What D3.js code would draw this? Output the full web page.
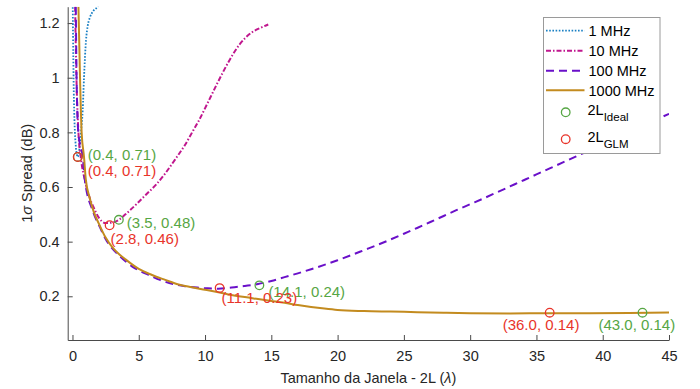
<!DOCTYPE html>
<html>
<head>
<meta charset="utf-8">
<script src="https://cdn.jsdelivr.net/npm/d3@7"></script>
<style>
  body { margin: 0; background: #fff; }
  text { font-family: "Liberation Sans", Arial, sans-serif; }
</style>
</head>
<body>
<div id="graph"></div>
<script>
// values
const xTicks = [0, 5, 10, 15, 20, 25, 30, 35, 40, 45]
const yTicks = [0.2, 0.4, 0.6, 0.8, 1, 1.2]

const seriesNames = ['1 MHz', '10 MHz', '100 MHz', '1000 MHz']

const x1MHz = [0.02, 0.11, 0.26, 0.33, 0.4, 0.48, 0.57, 0.67, 0.77, 0.87, 1.02, 1.15, 1.32, 1.55, 1.83, 1.95]
const y1MHz = [1.258, 0.92, 0.744, 0.72, 0.71, 0.725, 0.759, 0.815, 0.88, 1.0, 1.136, 1.19, 1.221, 1.243, 1.256, 1.262]

const x10MHz = [0.2, 0.3, 0.45, 0.65, 0.94, 1.3, 1.6, 2.0, 2.5, 3.0, 3.5, 4.0, 4.84, 5.5, 6.35, 7.0, 7.86, 8.5, 9.11, 9.5, 10.12, 10.88, 11.75, 12.64, 13.5, 14.2, 14.77]
const y10MHz = [1.26, 1.0, 0.8, 0.7, 0.624, 0.56, 0.525, 0.487, 0.468, 0.47, 0.48, 0.5, 0.538, 0.57, 0.611, 0.65, 0.709, 0.755, 0.807, 0.84, 0.9, 0.975, 1.056, 1.124, 1.165, 1.183, 1.195]

const x100MHz = [0.25, 0.31, 0.44, 0.77, 0.94, 1.52, 2.07, 2.5, 3.0, 3.5, 4.0, 4.6, 5.0, 5.85, 6.6, 7.6, 8.5, 9.4, 10.2, 11.0, 12, 13, 14, 15, 16, 17, 18, 19, 20, 21, 22, 23, 24, 25, 26, 27, 28, 29, 30, 31, 32, 33, 34, 35, 36, 37, 38, 39, 40, 41, 42, 43, 44, 45]
const y100MHz = [1.26, 1.0, 0.8, 0.71, 0.624, 0.514, 0.453, 0.41, 0.375, 0.35, 0.328, 0.306, 0.295, 0.276, 0.26, 0.245, 0.237, 0.232, 0.229, 0.228, 0.232, 0.238, 0.245, 0.256, 0.27, 0.284, 0.299, 0.315, 0.332, 0.35, 0.369, 0.388, 0.408, 0.429, 0.45, 0.472, 0.494, 0.516, 0.537, 0.558, 0.58, 0.602, 0.624, 0.646, 0.668, 0.69, 0.712, 0.735, 0.757, 0.779, 0.801, 0.823, 0.846, 0.868]

const x1000MHz = [0.45, 0.57, 0.69, 0.87, 1.0, 1.3, 1.6, 2.0, 2.5, 3.0, 3.5, 4.0, 5.0, 6.0, 7.0, 8.0, 9.0, 10, 11, 12, 13, 14, 15, 16, 17, 18, 19, 20, 22, 24, 26, 28, 30, 33, 36, 39, 42, 45]
const y1000MHz = [1.26, 1.0, 0.8, 0.71, 0.63, 0.56, 0.51, 0.465, 0.415, 0.38, 0.355, 0.335, 0.3, 0.278, 0.26, 0.243, 0.233, 0.224, 0.215, 0.205, 0.197, 0.19, 0.183, 0.176, 0.168, 0.161, 0.155, 0.15, 0.146, 0.144, 0.142, 0.14, 0.138, 0.137, 0.138, 0.138, 0.139, 0.141]

// optimum window per frequency
const idealX = [0.4, 3.5, 14.1, 43.0]
const idealY = [0.71, 0.48, 0.24, 0.14]
const glmX = [0.4, 2.8, 11.1, 36.0]
const glmY = [0.71, 0.46, 0.23, 0.14]

// layout
const width = 700; const height = 389
const margin = { left: 67.7, right: 31, top: 6.7, bottom: 49 }
const colors = ['#1a80c4', '#c0178e', '#6a10c9', '#c38b1f']
const dashes = ['1.6 1.6', '5 2 1.5 2', '8 5', null]
const widths = [1.8, 2, 2, 2]
const green = '#56a644'; const red = '#e8342a'
// label offsets from the marker (px)
const idealOffsets = [[10, 3], [8, 8], [9, 12], [-44, 17]]
const glmOffsets = [[10, 19], [1, 19], [2, 15], [-47, 17]]

const series = [[x1MHz, y1MHz], [x10MHz, y10MHz], [x100MHz, y100MHz], [x1000MHz, y1000MHz]]
  .map((s, i) => ({ name: seriesNames[i], points: s[0].map((v, j) => [v, s[1][j]]) }))

const xScale = d3.scaleLinear().domain([-0.36, 45]).range([margin.left, width - margin.right])
const yScale = d3.scaleLinear().domain([0.04, 1.26]).range([height - margin.bottom, margin.top])

const svg = d3.select('#graph').append('svg')
  .attr('width', width).attr('height', height)

svg.append('defs').append('clipPath').attr('id', 'clip')
  .append('rect')
  .attr('x', margin.left).attr('y', margin.top)
  .attr('width', width - margin.right - margin.left)
  .attr('height', height - margin.bottom - margin.top)

const axisColor = '#4a4a4a'
const fontSize = '14.5px'

// bottom axis, ticks pointing inward
const xAxis = svg.append('g')
  .attr('transform', 'translate(0,' + (height - margin.bottom) + ')')
  .call(d3.axisBottom(xScale).tickValues(xTicks).tickSizeInner(-5).tickSizeOuter(0).tickPadding(11).tickFormat(d3.format('d')))
xAxis.select('.domain').attr('stroke', axisColor)
xAxis.selectAll('.tick line').attr('stroke', axisColor)
xAxis.selectAll('text').style('font-size', fontSize).attr('fill', '#262626')

const yAxis = svg.append('g')
  .attr('transform', 'translate(' + margin.left + ',0)')
  .call(d3.axisLeft(yScale).tickValues(yTicks).tickSizeInner(-5).tickSizeOuter(0).tickPadding(8).tickFormat(d => d === 1 ? '1' : d3.format('.1f')(d)))
yAxis.select('.domain').attr('stroke', axisColor)
yAxis.selectAll('.tick line').attr('stroke', axisColor)
yAxis.selectAll('text').style('font-size', fontSize).attr('fill', '#262626')

// axis titles
const xTitle = svg.append('text')
  .attr('x', (margin.left + width - margin.right) / 2)
  .attr('y', 383)
  .attr('text-anchor', 'middle')
  .style('font-size', fontSize).attr('fill', '#262626')
xTitle.append('tspan').text('Tamanho da Janela - 2L (')
xTitle.append('tspan').style('font-style', 'italic').text('λ')
xTitle.append('tspan').text(')')

const yTitle = svg.append('text')
  .attr('transform', 'translate(32,' + ((margin.top + height - margin.bottom) / 2) + ') rotate(-90)')
  .attr('text-anchor', 'middle')
  .style('font-size', fontSize).attr('fill', '#262626')
yTitle.append('tspan').text('1')
yTitle.append('tspan').style('font-style', 'italic').text('σ')
yTitle.append('tspan').text(' Spread (dB)')

// curves
const line = d3.line()
  .x(d => xScale(d[0]))
  .y(d => yScale(d[1]))
  .curve(d3.curveMonotoneX)

svg.append('g').attr('clip-path', 'url(#clip)')
  .selectAll('path')
  .data(series)
  .enter().append('path')
  .attr('d', d => line(d.points))
  .attr('fill', 'none')
  .attr('stroke', (d, i) => colors[i])
  .attr('stroke-width', (d, i) => widths[i])
  .attr('stroke-dasharray', (d, i) => dashes[i])

// markers + labels
const fmt = (x, y) => '(' + x.toFixed(1) + ', ' + y.toFixed(2) + ')'
const markers = svg.append('g')

function addMarkers (xs, ys, color, offsets) {
  xs.forEach((x, i) => {
    markers.append('circle')
      .attr('cx', xScale(x)).attr('cy', yScale(ys[i]))
      .attr('r', 4.3)
      .attr('fill', 'none')
      .attr('stroke', color)
      .attr('stroke-width', 1.3)
    markers.append('text')
      .attr('x', xScale(x) + offsets[i][0])
      .attr('y', yScale(ys[i]) + offsets[i][1])
      .style('font-size', '15px')
      .attr('fill', color)
      .text(fmt(x, ys[i]))
  })
}
addMarkers(idealX, idealY, green, idealOffsets)
addMarkers(glmX, glmY, red, glmOffsets)

// legend
const legend = svg.append('g')
legend.append('rect')
  .attr('x', 543.5).attr('y', 17.5)
  .attr('width', 116.5).attr('height', 136)
  .attr('fill', '#fff')
  .attr('stroke', '#9a9a9a')

const rowY = [30.7, 50.7, 70.7, 90.3]
seriesNames.forEach((name, i) => {
  legend.append('line')
    .attr('x1', 546).attr('x2', 584.5)
    .attr('y1', rowY[i]).attr('y2', rowY[i])
    .attr('stroke', colors[i])
    .attr('stroke-width', widths[i])
    .attr('stroke-dasharray', dashes[i])
  legend.append('text')
    .attr('x', 588.5).attr('y', rowY[i] + 5.2)
    .style('font-size', fontSize).attr('fill', '#000')
    .text(name)
})

const subRows = [[112.3, green, 'Ideal'], [139.2, red, 'GLM']]
subRows.forEach(r => {
  legend.append('circle')
    .attr('cx', 565.7).attr('cy', r[0])
    .attr('r', 4.3)
    .attr('fill', 'none')
    .attr('stroke', r[1])
    .attr('stroke-width', 1.3)
  const t = legend.append('text')
    .attr('x', 587.5).attr('y', r[0] + 3)
    .style('font-size', fontSize).attr('fill', '#000')
  t.append('tspan').text('2L')
  t.append('tspan').attr('dy', 6).style('font-size', '11.5px').text(r[2])
})
</script>
</body>
</html>
